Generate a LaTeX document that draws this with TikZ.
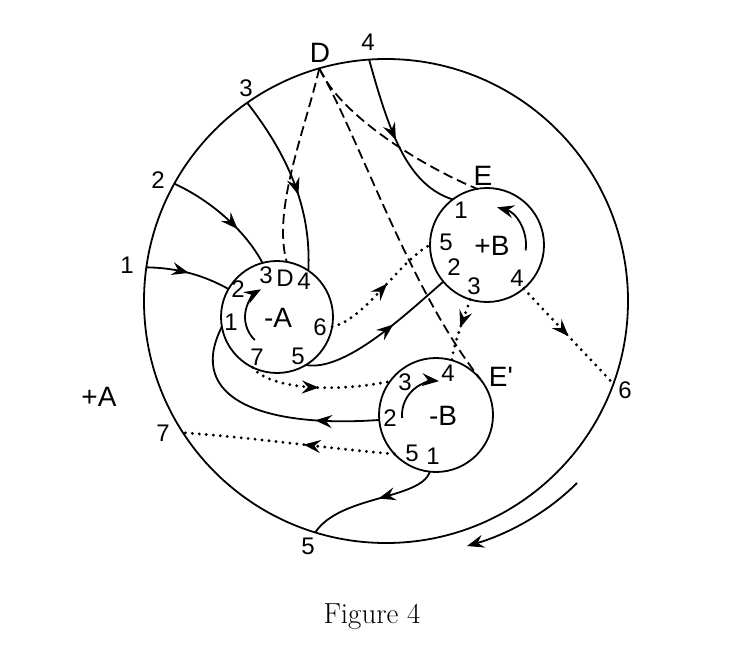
\documentclass[tikz,border=0pt]{standalone}
\usepackage{fontspec}
\newfontfamily\labfont{Liberation Sans}
\usetikzlibrary{arrows.meta,decorations.markings,calc}
\tikzset{
  conn/.style={line width=1.8pt},
  dotline/.style={line width=3.2pt, dash pattern=on 0pt off 7pt, line cap=round},
  dashline/.style={line width=1.8pt, dash pattern=on 10pt off 5pt},
  midarrow/.style={postaction={decorate}, decoration={markings, mark=at position #1 with {\arrow{Stealth[length=17pt,width=13pt,inset=6pt]}}}},
  ring/.style={circle, draw, line width=1.8pt, inner sep=0pt, outer sep=0pt, minimum size=#1},
  lab/.style={font=\labfont\fontsize{24}{24}\selectfont, inner sep=0pt},
  biglab/.style={font=\labfont\fontsize{28}{28}\selectfont, inner sep=0pt},
  endtip/.style={-{Stealth[length=17pt,width=13pt,inset=6pt]}},
}
\begin{document}
\begin{tikzpicture}[x=1pt,y=-1pt]
\useasboundingbox (0,0) rectangle (748,669);
% circles
\node[ring=484pt] (O) at (386,301) {};
\node[ring=112pt] (A) at (277,317) {};
\node[ring=114pt] (B) at (487,245) {};
\node[ring=114pt] (C) at (436,415) {};
% solid connectors
\draw[conn, midarrow=0.5] (O.172) .. controls (180,268) and (205,276) .. (A.150);
\draw[conn, midarrow=0.65] (O.151) .. controls (210,200) and (245,230) .. (A.105);
\draw[conn, midarrow=0.58] (O.125) .. controls (280,145) and (312,200) .. (A.56);
\draw[conn, midarrow=0.5] (O.94) .. controls (390,135) and (408,185) .. (B.127);
\draw[conn, midarrow=0.6] (A.-59) .. controls (345,372) and (405,315) .. (B.-140);
\draw[conn, midarrow=0.28] (C.-175) .. controls (265,428) and (185,400) .. (A.-170);
\draw[conn, midarrow=0.45] (C.-96) .. controls (420,500) and (340,495) .. (O.-107);
% dashed connectors
\draw[dashline] (O.106) .. controls (305,130) and (272,210) .. (A.80);
\draw[dashline] (O.106) .. controls (340,115) and (420,165) .. (B.100);
\draw[dashline] (O.106) .. controls (360,140) and (410,290) .. (C.39);
% dotted connectors
\draw[dotline, midarrow=0.55] (A.-10) .. controls (365,320) and (400,260) .. (B.180);
\draw[dotline, midarrow=0.47] (B.-107) .. controls (463,320) and (455,340) .. (C.74);
\draw[dotline, midarrow=0.5] (B.-50) -- (O.-20.6);
\draw[dotline, midarrow=0.5] (A.-116) .. controls (265,385) and (320,395) .. (C.144);
\draw[dotline, midarrow=0.43] (C.-137) .. controls (340,450) and (250,437) .. (O.-147);
% inner rotation arrows
\draw[conn, endtip] (A.center) ++(-226:32) arc[start angle=-226, end angle=-120, radius=32];
\draw[conn, endtip] (B.center) ++(8:39) arc[start angle=8, end angle=-75, radius=39];
\draw[conn, endtip] (C.center) ++(-185:34) arc[start angle=-185, end angle=-85, radius=34];
% outer rotation arrow
\coordinate (oa) at (577,483);
\coordinate (ob) at (467,546);
\draw[conn, endtip] (oa) .. controls (545,515) and (505,535) .. (ob);
% outer labels
\node[lab] (l1) at (127,265) {1};
\node[lab] (l2) at (158,180) {2};
\node[lab] (l3) at (246,88) {3};
\node[biglab] (lD) at (320,53) {D};
\node[lab] (l4) at (368,42) {4};
\node[lab] (l6) at (625,390) {6};
\node[lab] (l5) at (308,546) {5};
\node[lab] (l7) at (163,433) {7};
\node[biglab] (lpA) at (99,397) {+A};
\node[biglab] (lE) at (483,176) {E};
\node[biglab] (lEp) at (501,377) {E'};
% -A labels
\node[lab] (a3) at (266,275) {3};
\node[lab] (aD) at (285,278) {D};
\node[lab] (a4) at (304,281) {4};
\node[lab] (a2) at (238,289) {2};
\node[lab] (a1) at (231,322) {1};
\node[biglab] (aA) at (278,318) {-A};
\node[lab] (a6) at (320,327) {6};
\node[lab] (a7) at (257,357) {7};
\node[lab] (a5) at (298,356) {5};
% +B labels
\node[lab] (b1) at (461,210) {1};
\node[lab] (b5) at (446,242) {5};
\node[biglab] (bB) at (492,246) {+B};
\node[lab] (b2) at (454,267) {2};
\node[lab] (b3) at (474,286) {3};
\node[lab] (b4) at (517,278) {4};
% -B labels
\node[lab] (c3) at (405,382) {3};
\node[lab] (c4) at (448,373) {4};
\node[lab] (c2) at (390,418) {2};
\node[biglab] (cB) at (443,416) {-B};
\node[lab] (c5) at (412,453) {5};
\node[lab] (c1) at (433,456) {1};
% caption
\node (cap) at (372,617) {\fontsize{29}{34}\selectfont Figure 4};
\end{tikzpicture}
\end{document}
